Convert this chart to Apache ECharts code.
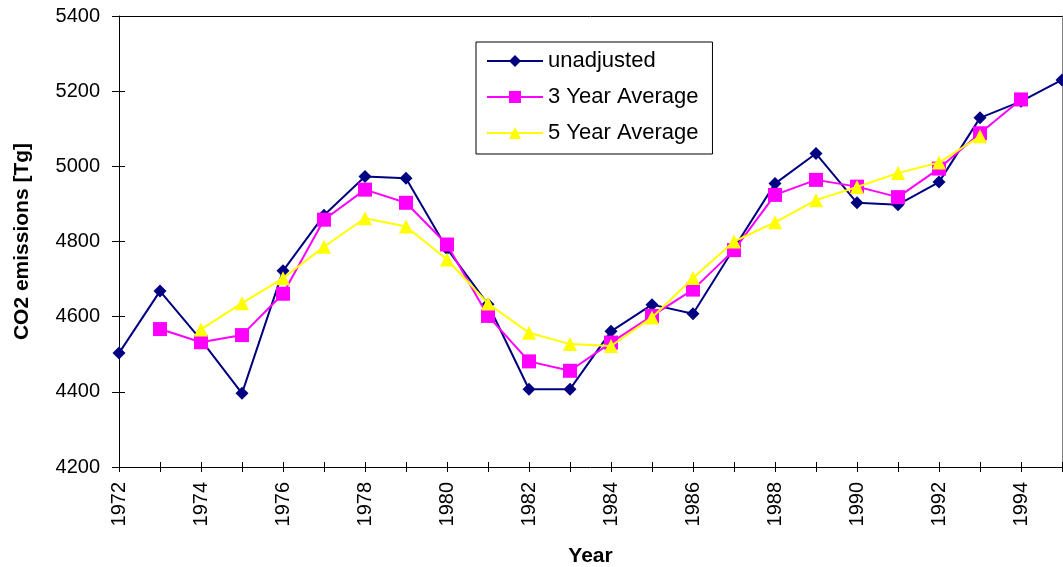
<!DOCTYPE html>
<html>
<head>
<meta charset="utf-8">
<title>CO2 emissions</title>
<script src="https://cdn.jsdelivr.net/npm/echarts@6/dist/echarts.min.js"></script>
<style>
  html, body { margin: 0; padding: 0; background: #fff; }
  #chart { width: 1063px; height: 567px; }
</style>
</head>
<body>
<div id="chart"></div>
<script>
// Years 1972–1995
const years = ['1972','1973','1974','1975','1976','1977','1978','1979','1980','1981','1982','1983',
               '1984','1985','1986','1987','1988','1989','1990','1991','1992','1993','1994','1995'];

// Annual CO2 emissions [Tg]
const unadjusted = [4503, 4668, 4538, 4396, 4722, 4870, 4973, 4968, 4781, 4633, 4407, 4407,
                    4561, 4632, 4608, 4782, 4954, 5034, 4903, 4898, 4958, 5129, 5173, 5230];

// Centred 3-year moving average (undefined at both ends)
const avg3 = [null, 4567, 4532, 4551, 4661, 4858, 4938, 4903, 4792, 4602, 4481, 4456,
              4531, 4602, 4672, 4777, 4924, 4964, 4946, 4918, 4994, 5088, 5178, null];

// Centred 5-year moving average
const avg5 = [null, null, 4566, 4636, 4702, 4786, 4862, 4840, 4752, 4635, 4557, 4527,
              4522, 4598, 4703, 4800, 4851, 4910, 4945, 4982, 5010, 5080, null, null];

const yTicks = { min: 4200, max: 5400, step: 200 };

const FONT = '"Liberation Sans", Arial, sans-serif';

const chart = echarts.init(document.getElementById('chart'), null, { renderer: 'canvas' });

const baseX = {
  type: 'category',
  data: years,
  boundaryGap: false
};

const baseY = {
  type: 'value',
  min: yTicks.min,
  max: yTicks.max,
  interval: yTicks.step,
  splitLine: { show: false }
};

chart.setOption({
  animation: false,
  backgroundColor: '#ffffff',
  grid: { left: 119, right: 1, top: 16, bottom: 100, containLabel: false, outerBoundsMode: 'none' },
  legend: {
    orient: 'vertical',
    left: 476,
    top: 42,
    padding: [8, 14, 10, 10],
    itemGap: 14,
    itemWidth: 56,
    itemHeight: 15,
    borderColor: '#000',
    borderWidth: 1,
    backgroundColor: '#fff',
    textStyle: { fontFamily: FONT, fontSize: 22, color: '#000' },
    data: ['unadjusted', '3 Year Average', '5 Year Average']
  },
  xAxis: [
    Object.assign({}, baseX, {
      position: 'bottom',
      name: 'Year',
      nameLocation: 'middle',
      nameGap: 79,
      nameTextStyle: { fontFamily: FONT, fontSize: 21, fontWeight: 'bold', color: '#000' },
      axisLine: { show: true, lineStyle: { color: '#000', width: 1 } },
      axisTick: { show: true, interval: 0, length: 5, lineStyle: { color: '#000' } },
      axisLabel: {
        interval: 1, rotate: 90, margin: 15,
        fontFamily: FONT, fontSize: 20, color: '#000'
      },
      splitLine: { show: false }
    }),
    // inward half of the crossing ticks
    Object.assign({}, baseX, {
      position: 'bottom',
      axisLine: { show: false },
      axisTick: { show: true, inside: true, interval: 0, length: 5, lineStyle: { color: '#000' } },
      axisLabel: { show: false },
      splitLine: { show: false }
    }),
    // top frame edge
    Object.assign({}, baseX, {
      position: 'top',
      axisLine: { show: true, lineStyle: { color: '#000', width: 1 } },
      axisTick: { show: false },
      axisLabel: { show: false },
      splitLine: { show: false }
    })
  ],
  yAxis: [
    Object.assign({}, baseY, {
      position: 'left',
      name: 'CO2 emissions [Tg]',
      nameLocation: 'middle',
      nameGap: 86,
      nameTextStyle: { fontFamily: FONT, fontSize: 21, fontWeight: 'bold', color: '#000' },
      axisLine: { show: true, lineStyle: { color: '#000', width: 1 } },
      axisTick: { show: true, length: 7, lineStyle: { color: '#000' } },
      axisLabel: {
        margin: 19, fontFamily: FONT, fontSize: 20, color: '#000',
        formatter: (v) => String(v)
      }
    }),
    // inward half of the crossing ticks
    Object.assign({}, baseY, {
      position: 'left',
      axisLine: { show: false },
      axisTick: { show: true, inside: true, length: 6, lineStyle: { color: '#000' } },
      axisLabel: { show: false }
    }),
    // right frame edge
    Object.assign({}, baseY, {
      position: 'right',
      axisLine: { show: true, lineStyle: { color: '#808080', width: 1 } },
      axisTick: { show: false },
      axisLabel: { show: false }
    })
  ],
  series: [
    {
      name: 'unadjusted',
      type: 'line',
      data: unadjusted,
      symbol: 'diamond',
      symbolSize: 13,
      lineStyle: { color: '#000080', width: 2 },
      itemStyle: { color: '#000080' },
      z: 3
    },
    {
      name: '3 Year Average',
      type: 'line',
      data: avg3,
      symbol: 'rect',
      symbolSize: 14,
      lineStyle: { color: '#ff00ff', width: 2 },
      itemStyle: { color: '#ff00ff' },
      z: 4
    },
    {
      name: '5 Year Average',
      type: 'line',
      data: avg5,
      symbol: 'triangle',
      symbolSize: 14,
      lineStyle: { color: '#ffff00', width: 2 },
      itemStyle: { color: '#ffff00' },
      z: 5
    }
  ]
});
</script>
</body>
</html>
